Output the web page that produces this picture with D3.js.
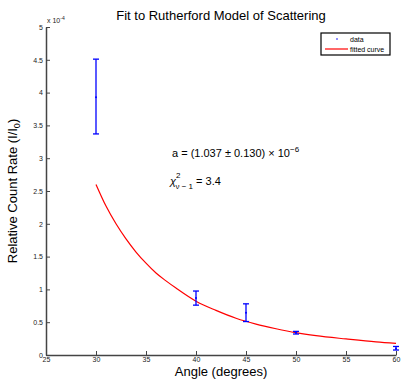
<!DOCTYPE html>
<html>
<head>
<meta charset="utf-8">
<script src="https://cdn.jsdelivr.net/npm/d3@7/dist/d3.min.js"></script>
<style>
    body { margin: 0; background: #fff; }
    text { font-family: "Liberation Sans", Arial, sans-serif; }
</style>
</head>
<body>
<div id="chart"></div>
<script>
// measured data (relative count rate)
const angles = [30, 40, 45, 50, 60];
const rates = [3.93e-4, 0.87e-4, 0.645e-4, 0.34e-4, 0.10e-4];
const errLow = [3.37e-4, 0.76e-4, 0.51e-4, 0.32e-4, 0.076e-4];
const errHigh = [4.51e-4, 0.975e-4, 0.78e-4, 0.36e-4, 0.13e-4];

// fitted curve
const fitAngles = [30, 31, 32, 33, 34, 35, 36, 37, 38, 40, 42, 44, 46, 48, 50, 52, 55, 58, 60];
const fitRates = [2.60e-4, 2.27e-4, 2.00e-4, 1.77e-4, 1.57e-4, 1.40e-4, 1.25e-4, 1.13e-4, 1.02e-4,
    0.82e-4, 0.68e-4, 0.56e-4, 0.47e-4, 0.40e-4, 0.34e-4, 0.295e-4, 0.245e-4, 0.200e-4, 0.178e-4];

const xTicks = [25, 30, 35, 40, 45, 50, 55, 60];
const yTicks = [0, 0.5e-4, 1e-4, 1.5e-4, 2e-4, 2.5e-4, 3e-4, 3.5e-4, 4e-4, 4.5e-4, 5e-4];

const width = 403;
const height = 381;
const margin = {top: 27, right: 7, bottom: 26, left: 46};

const svg = d3.select('#chart')
    .append('svg')
    .attr('width', width)
    .attr('height', height);

const x = d3.scaleLinear()
    .domain([25, 60])
    .range([margin.left, width - margin.right]);

const y = d3.scaleLinear()
    .domain([0, 5e-4])
    .range([height - margin.bottom, margin.top]);

const axisColor = '#444';

// axes, ticks pointing inward
const xAxis = d3.axisBottom(x)
    .tickValues(xTicks)
    .tickFormat(d3.format('d'))
    .tickSizeInner(-4)
    .tickSizeOuter(0)
    .tickPadding(3);

const yAxis = d3.axisLeft(y)
    .tickValues(yTicks)
    .tickFormat((d) => d3.format('~g')(Math.round(d / 1e-5) / 10))
    .tickSizeInner(-4)
    .tickSizeOuter(0)
    .tickPadding(3);

const gx = svg.append('g')
    .attr('transform', 'translate(0,' + (height - margin.bottom) + ')')
    .call(xAxis);

const gy = svg.append('g')
    .attr('transform', 'translate(' + margin.left + ',0)')
    .call(yAxis);

[gx, gy].forEach((g) => {
    g.select('.domain').attr('stroke', axisColor).attr('stroke-width', 1.5);
    g.selectAll('.tick line').attr('stroke', axisColor).attr('stroke-width', 1);
    g.selectAll('.tick text')
        .attr('fill', '#222')
        .style('font-size', '7px');
});
gx.selectAll('.tick text').attr('dy', '0.6em');

// exponent label
const expLabel = svg.append('text')
    .attr('x', margin.left + 1)
    .attr('y', margin.top - 4)
    .attr('fill', '#222')
    .style('font-size', '7px');
expLabel.append('tspan').text('x 10');
expLabel.append('tspan')
    .attr('dy', -3)
    .style('font-size', '5px')
    .text('-4');

// fitted curve
const line = d3.line()
    .x((d, i) => x(fitAngles[i]))
    .y((d) => y(d))
    .curve(d3.curveMonotoneX);

svg.append('path')
    .datum(fitRates)
    .attr('d', line)
    .attr('fill', 'none')
    .attr('stroke', '#ff0000')
    .attr('stroke-width', 1.2);

// error bars
const capW = 3;
const bars = svg.append('g')
    .attr('stroke', '#0000ff')
    .attr('stroke-width', 1.3);

angles.forEach((a, i) => {
    const cx = x(a);
    bars.append('line')
        .attr('x1', cx).attr('x2', cx)
        .attr('y1', y(errLow[i])).attr('y2', y(errHigh[i]));
    bars.append('line')
        .attr('x1', cx - capW).attr('x2', cx + capW)
        .attr('y1', y(errLow[i])).attr('y2', y(errLow[i]));
    bars.append('line')
        .attr('x1', cx - capW).attr('x2', cx + capW)
        .attr('y1', y(errHigh[i])).attr('y2', y(errHigh[i]));
});

svg.append('g')
    .selectAll('circle')
    .data(rates)
    .enter()
    .append('circle')
    .attr('cx', (d, i) => x(angles[i]))
    .attr('cy', (d) => y(d))
    .attr('r', 1)
    .attr('fill', '#0000ff');

// title and axis labels
svg.append('text')
    .attr('x', (margin.left + width - margin.right) / 2)
    .attr('y', 20)
    .attr('text-anchor', 'middle')
    .style('font-size', '13px')
    .text('Fit to Rutherford Model of Scattering');

svg.append('text')
    .attr('x', (margin.left + width - margin.right) / 2)
    .attr('y', 376)
    .attr('text-anchor', 'middle')
    .style('font-size', '13px')
    .text('Angle (degrees)');

const yLabel = svg.append('text')
    .attr('transform', 'translate(17,' + ((margin.top + height - margin.bottom) / 2) + ') rotate(-90)')
    .attr('text-anchor', 'middle')
    .style('font-size', '13px');
yLabel.append('tspan').text('Relative Count Rate (I/I');
yLabel.append('tspan').attr('dy', 3).style('font-size', '9px').text('0');
yLabel.append('tspan').attr('dy', -3).text(')');

// fit annotation
const note1 = svg.append('text')
    .attr('x', 172)
    .attr('y', 157)
    .style('font-size', '11px');
note1.append('tspan').text('a = (1.037 \u00b1 0.130) \u00d7 10');
note1.append('tspan').attr('dy', -5).style('font-size', '8px').text('\u22126');

const note2 = svg.append('text')
    .attr('x', 170)
    .attr('y', 185)
    .style('font-size', '11px');
note2.append('tspan').style('font-style', 'italic').text('\u03c7');
note2.append('tspan').attr('dx', 0).attr('dy', -7).style('font-size', '8px').text('2');
note2.append('tspan').attr('dx', -5).attr('dy', 11).style('font-size', '8px').text('\u03bd \u2212 1');
note2.append('tspan').attr('dy', -4).text(' = 3.4');

// legend
const legend = svg.append('g').attr('transform', 'translate(321,33)');
legend.append('rect')
    .attr('width', 69)
    .attr('height', 22)
    .attr('fill', '#fff')
    .attr('stroke', '#000')
    .attr('stroke-width', 1.2);
legend.append('circle')
    .attr('cx', 16)
    .attr('cy', 6)
    .attr('r', 0.8)
    .attr('fill', '#0000ff');
legend.append('line')
    .attr('x1', 4).attr('x2', 27)
    .attr('y1', 16).attr('y2', 16)
    .attr('stroke', '#ff0000')
    .attr('stroke-width', 1.2);
legend.append('text')
    .attr('x', 29).attr('y', 9)
    .style('font-size', '7px')
    .text('data');
legend.append('text')
    .attr('x', 29).attr('y', 19)
    .style('font-size', '7px')
    .text('fitted curve');
</script>
</body>
</html>
